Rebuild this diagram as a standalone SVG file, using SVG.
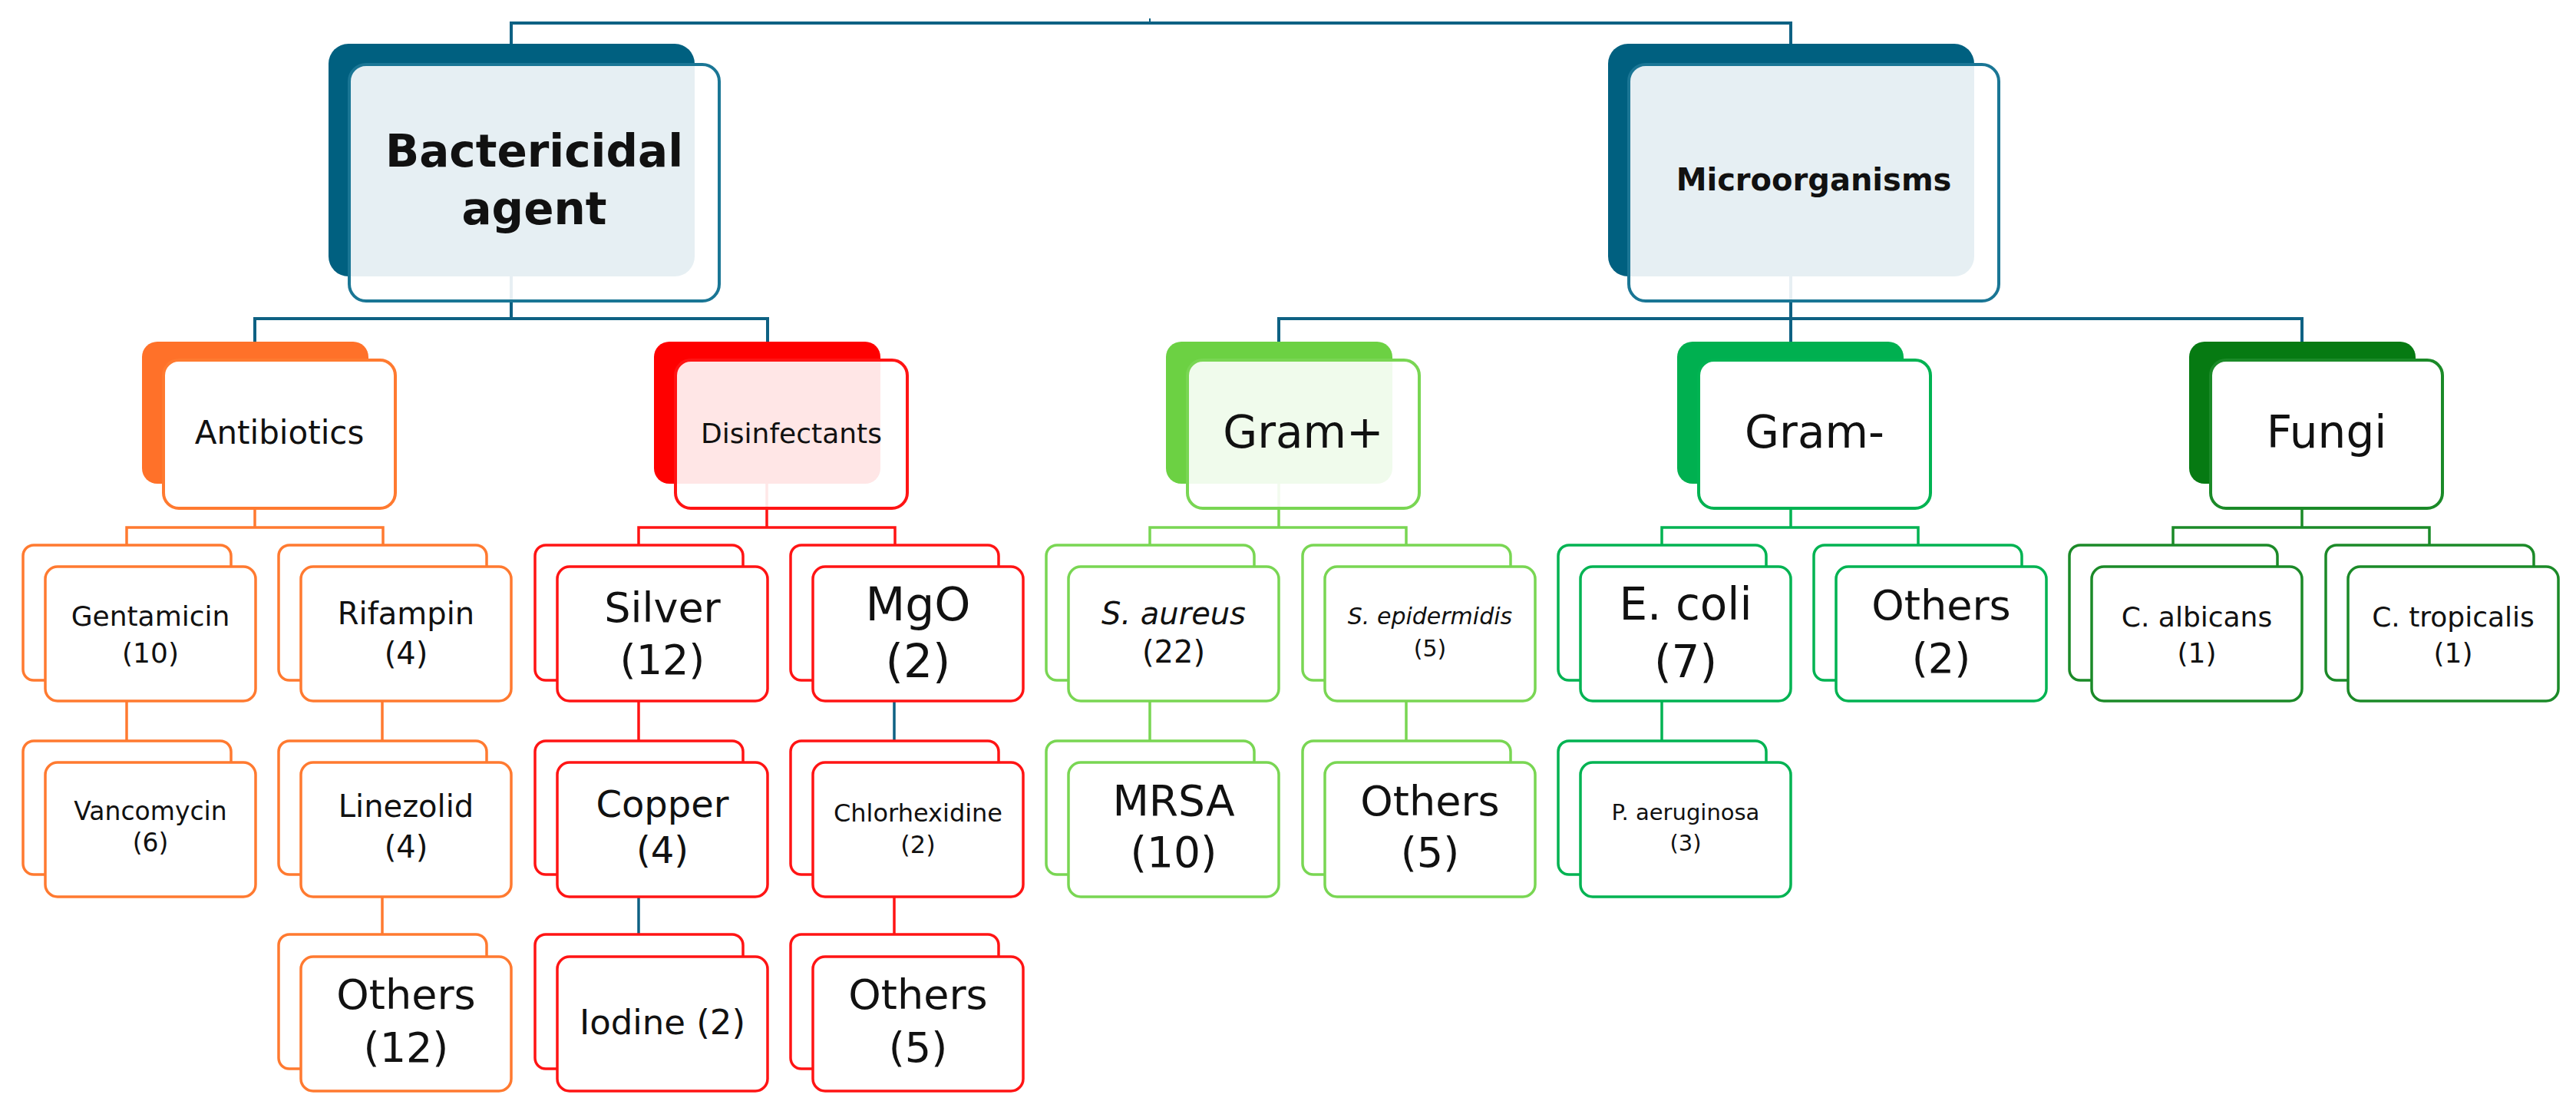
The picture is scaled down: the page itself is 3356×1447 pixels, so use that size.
<svg xmlns="http://www.w3.org/2000/svg" width="3356" height="1447" viewBox="0 0 3356 1447">
<style>
.lbl{font-family:"DejaVu Sans","Liberation Sans",sans-serif;fill:#111;text-anchor:middle}
.b{font-weight:bold}
.it{font-style:italic}
.ln{fill:none;stroke-width:3.5}
.lt{fill:none;stroke-width:4}
.cb{fill:#fff;stroke-width:3.5}
.pf{stroke-width:4}
.tl{stroke:#0E6183}
.or{stroke:#FF7A30}
.rd{stroke:#FF1414}
.lg{stroke:#79D653}
.gr{stroke:#00B352}
.dg{stroke:#1B8A28}
.bgT{fill:#006080}
.bgO{fill:#FF7129}
.bgR{fill:#FF0000}
.bgL{fill:#6CD143}
.bgG{fill:#00B050}
.bgD{fill:#067A12}
.fw{fill:#fff}
.fs{fill:#fff;fill-opacity:0.9}
</style>
<rect width="3356" height="1447" fill="#fff"/>

<g id="connectors">
  <path class="lt tl" d="M666 57 V30 H2333 V57"/>
  <path class="tl" d="M1498 24 V30" stroke-width="2" fill="none"/>
  <path class="lt tl" d="M666 360 V415 M332 447 V415 H1000 V447"/>
  <path class="lt tl" d="M2333 360 V447 M1666 447 V415 H2999 V447"/>
  <path class="ln or" d="M332 630 V687 M165 712 V687 H499 V712"/>
  <path class="ln or" d="M165 913 V966"/>
  <path class="ln or" d="M498 913 V966 M498 1168 V1218"/>
  <path class="ln rd" d="M999 630 V687 M832 712 V687 H1166 V712"/>
  <path class="ln rd" d="M832 913 V966"/>
  <path class="ln tl" d="M832 1168 V1218" stroke-width="3"/>
  <path class="ln tl" d="M1165 913 V966" stroke-width="3"/>
  <path class="ln rd" d="M1165 1168 V1218"/>
  <path class="ln lg" d="M1666 630 V687 M1498 712 V687 H1832 V712"/>
  <path class="ln lg" d="M1498 913 V966 M1832 913 V966"/>
  <path class="ln gr" d="M2333 630 V687 M2165 712 V687 H2499 V712"/>
  <path class="ln gr" d="M2165 913 V966"/>
  <path class="ln dg" d="M2999 630 V687 M2831 712 V687 H3165 V712"/>
</g>

<g id="node-bactericidal">
  <rect class="bgT" x="428" y="57" width="477" height="303" rx="26"/>
  <rect class="fs pf" x="455" y="84" width="482" height="308" rx="22" stroke="#1A7695"/>
  <text class="lbl b" x="696" y="217" font-size="58">Bactericidal</text>
  <text class="lbl b" x="696" y="292" font-size="58">agent</text>
</g>
<g id="node-microorganisms">
  <rect class="bgT" x="2095" y="57" width="477" height="303" rx="26"/>
  <rect class="fs pf" x="2122" y="84" width="482" height="308" rx="22" stroke="#1A7695"/>
  <text class="lbl b" x="2363" y="248" font-size="40">Microorganisms</text>
</g>

<g id="node-antibiotics">
  <rect class="bgO" x="185" y="445" width="295" height="185" rx="20"/>
  <rect class="fw pf or" x="213" y="469" width="302" height="193" rx="20"/>
  <text class="lbl" x="364" y="578" font-size="42">Antibiotics</text>
</g>
<g id="node-disinfectants">
  <rect class="bgR" x="852" y="445" width="295" height="185" rx="20"/>
  <rect class="fs pf rd" x="880" y="469" width="302" height="193" rx="20"/>
  <text class="lbl" x="1031" y="577" font-size="36">Disinfectants</text>
</g>
<g id="node-gram-pos">
  <rect class="bgL" x="1519" y="445" width="295" height="185" rx="20"/>
  <rect class="fs pf lg" x="1547" y="469" width="302" height="193" rx="20"/>
  <text class="lbl" x="1698" y="583" font-size="58">Gram+</text>
</g>
<g id="node-gram-neg">
  <rect class="bgG" x="2185" y="445" width="295" height="185" rx="20"/>
  <rect class="fw pf gr" x="2213" y="469" width="302" height="193" rx="20"/>
  <text class="lbl" x="2364" y="583" font-size="58">Gram-</text>
</g>
<g id="node-fungi">
  <rect class="bgD" x="2852" y="445" width="295" height="185" rx="20"/>
  <rect class="fw pf dg" x="2880" y="469" width="302" height="193" rx="20"/>
  <text class="lbl" x="3031" y="583" font-size="58">Fungi</text>
</g>

<g id="node-gentamicin">
  <rect class="cb or" x="30" y="710" width="271" height="176" rx="14"/>
  <rect class="cb or" x="59" y="738" width="274" height="175" rx="16"/>
  <text class="lbl" x="196" y="815" font-size="36">Gentamicin</text>
  <text class="lbl" x="196" y="863" font-size="36">(10)</text>
</g>
<g id="node-vancomycin">
  <rect class="cb or" x="30" y="965" width="271" height="174" rx="14"/>
  <rect class="cb or" x="59" y="993" width="274" height="175" rx="16"/>
  <text class="lbl" x="196" y="1068" font-size="33">Vancomycin</text>
  <text class="lbl" x="196" y="1109" font-size="33">(6)</text>
</g>
<g id="node-rifampin">
  <rect class="cb or" x="363" y="710" width="271" height="176" rx="14"/>
  <rect class="cb or" x="392" y="738" width="274" height="175" rx="16"/>
  <text class="lbl" x="529" y="813" font-size="40">Rifampin</text>
  <text class="lbl" x="529" y="865" font-size="40">(4)</text>
</g>
<g id="node-linezolid">
  <rect class="cb or" x="363" y="965" width="271" height="174" rx="14"/>
  <rect class="cb or" x="392" y="993" width="274" height="175" rx="16"/>
  <text class="lbl" x="529" y="1064" font-size="40">Linezolid</text>
  <text class="lbl" x="529" y="1117" font-size="40">(4)</text>
</g>
<g id="node-others-antibiotics">
  <rect class="cb or" x="363" y="1217" width="271" height="175" rx="14"/>
  <rect class="cb or" x="392" y="1246" width="274" height="175" rx="16"/>
  <text class="lbl" x="529" y="1314" font-size="54">Others</text>
  <text class="lbl" x="529" y="1383" font-size="54">(12)</text>
</g>

<g id="node-silver">
  <rect class="cb rd" x="697" y="710" width="271" height="176" rx="14"/>
  <rect class="cb rd" x="726" y="738" width="274" height="175" rx="16"/>
  <text class="lbl" x="863" y="810" font-size="54">Silver</text>
  <text class="lbl" x="863" y="878" font-size="54">(12)</text>
</g>
<g id="node-copper">
  <rect class="cb rd" x="697" y="965" width="271" height="174" rx="14"/>
  <rect class="cb rd" x="726" y="993" width="274" height="175" rx="16"/>
  <text class="lbl" x="863" y="1064" font-size="48">Copper</text>
  <text class="lbl" x="863" y="1124" font-size="48">(4)</text>
</g>
<g id="node-iodine">
  <rect class="cb rd" x="697" y="1217" width="271" height="175" rx="14"/>
  <rect class="cb rd" x="726" y="1246" width="274" height="175" rx="16"/>
  <text class="lbl" x="863" y="1347" font-size="45">Iodine (2)</text>
</g>
<g id="node-mgo">
  <rect class="cb rd" x="1030" y="710" width="271" height="176" rx="14"/>
  <rect class="cb rd" x="1059" y="738" width="274" height="175" rx="16"/>
  <text class="lbl" x="1196" y="808" font-size="60">MgO</text>
  <text class="lbl" x="1196" y="882" font-size="60">(2)</text>
</g>
<g id="node-chlorhexidine">
  <rect class="cb rd" x="1030" y="965" width="271" height="174" rx="14"/>
  <rect class="cb rd" x="1059" y="993" width="274" height="175" rx="16"/>
  <text class="lbl" x="1196" y="1070" font-size="32">Chlorhexidine</text>
  <text class="lbl" x="1196" y="1111" font-size="32">(2)</text>
</g>
<g id="node-others-disinfectants">
  <rect class="cb rd" x="1030" y="1217" width="271" height="175" rx="14"/>
  <rect class="cb rd" x="1059" y="1246" width="274" height="175" rx="16"/>
  <text class="lbl" x="1196" y="1314" font-size="54">Others</text>
  <text class="lbl" x="1196" y="1383" font-size="54">(5)</text>
</g>

<g id="node-s-aureus">
  <rect class="cb lg" x="1363" y="710" width="271" height="176" rx="14"/>
  <rect class="cb lg" x="1392" y="738" width="274" height="175" rx="16"/>
  <text class="lbl it" x="1529" y="813" font-size="40">S. aureus</text>
  <text class="lbl" x="1529" y="863" font-size="40">(22)</text>
</g>
<g id="node-mrsa">
  <rect class="cb lg" x="1363" y="965" width="271" height="174" rx="14"/>
  <rect class="cb lg" x="1392" y="993" width="274" height="175" rx="16"/>
  <text class="lbl" x="1529" y="1062" font-size="55">MRSA</text>
  <text class="lbl" x="1529" y="1129" font-size="55">(10)</text>
</g>
<g id="node-s-epidermidis">
  <rect class="cb lg" x="1697" y="710" width="271" height="176" rx="14"/>
  <rect class="cb lg" x="1726" y="738" width="274" height="175" rx="16"/>
  <text class="lbl it" x="1863" y="813" font-size="30">S. epidermidis</text>
  <text class="lbl" x="1863" y="855" font-size="30">(5)</text>
</g>
<g id="node-others-gram-pos">
  <rect class="cb lg" x="1697" y="965" width="271" height="174" rx="14"/>
  <rect class="cb lg" x="1726" y="993" width="274" height="175" rx="16"/>
  <text class="lbl" x="1863" y="1062" font-size="54">Others</text>
  <text class="lbl" x="1863" y="1129" font-size="54">(5)</text>
</g>

<g id="node-e-coli">
  <rect class="cb gr" x="2030" y="710" width="271" height="176" rx="14"/>
  <rect class="cb gr" x="2059" y="738" width="274" height="175" rx="16"/>
  <text class="lbl" x="2196" y="807" font-size="58">E. coli</text>
  <text class="lbl" x="2196" y="882" font-size="58">(7)</text>
</g>
<g id="node-p-aeruginosa">
  <rect class="cb gr" x="2030" y="965" width="271" height="174" rx="14"/>
  <rect class="cb gr" x="2059" y="993" width="274" height="175" rx="16"/>
  <text class="lbl" x="2196" y="1068" font-size="29">P. aeruginosa</text>
  <text class="lbl" x="2196" y="1108" font-size="29">(3)</text>
</g>
<g id="node-others-gram-neg">
  <rect class="cb gr" x="2363" y="710" width="271" height="176" rx="14"/>
  <rect class="cb gr" x="2392" y="738" width="274" height="175" rx="16"/>
  <text class="lbl" x="2529" y="807" font-size="54">Others</text>
  <text class="lbl" x="2529" y="876" font-size="54">(2)</text>
</g>

<g id="node-c-albicans">
  <rect class="cb dg" x="2696" y="710" width="271" height="176" rx="14"/>
  <rect class="cb dg" x="2725" y="738" width="274" height="175" rx="16"/>
  <text class="lbl" x="2862" y="816" font-size="36">C. albicans</text>
  <text class="lbl" x="2862" y="863" font-size="36">(1)</text>
</g>
<g id="node-c-tropicalis">
  <rect class="cb dg" x="3030" y="710" width="271" height="176" rx="14"/>
  <rect class="cb dg" x="3059" y="738" width="274" height="175" rx="16"/>
  <text class="lbl" x="3196" y="816" font-size="36">C. tropicalis</text>
  <text class="lbl" x="3196" y="863" font-size="36">(1)</text>
</g>
</svg>
